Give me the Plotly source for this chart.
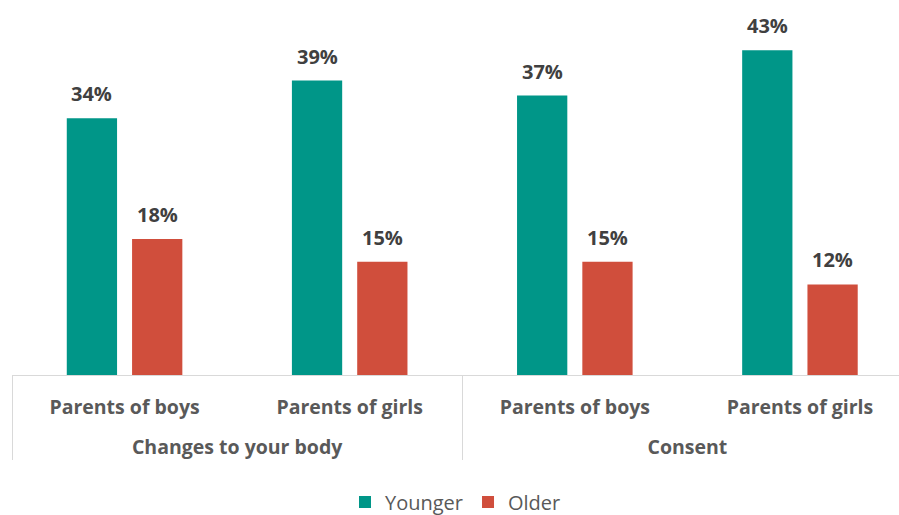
import plotly.graph_objects as go

# Survey topics (outer axis level) and parent groups (inner axis level)
topics = ["Changes to your body", "Changes to your body", "Consent", "Consent"]
parents = ["Parents of boys", "Parents of girls", "Parents of boys", "Parents of girls"]

younger = [34, 39, 37, 43]
older = [18, 15, 15, 12]

series = [("Younger", younger, "#009688"), ("Older", older, "#D04E3C")]

BARGAP = 0.42
label_font = dict(family="Open Sans", size=20, color="#404040", weight="bold")

# Inner labels get a trailing blank line so the outer level sits lower
inner_labels = [p + "<br> " for p in parents]

fig = go.Figure()
for name, vals, color in series:
    fig.add_trace(go.Bar(
        name=name,
        x=[topics, inner_labels],
        y=vals,
        marker=dict(color=color, line=dict(width=0)),
    ))

# Value labels above each bar, offset within its group slot
slot = (1 - BARGAP) / len(series)
for k, (name, vals, color) in enumerate(series):
    offset = (k - (len(series) - 1) / 2) * slot
    for i, v in enumerate(vals):
        fig.add_annotation(
            x=i + offset, y=v, xref="x", yref="y",
            text=f"{v}%", showarrow=False,
            yanchor="bottom", yshift=9,
            font=label_font,
        )

fig.update_layout(
    width=899, height=515,
    margin=dict(l=12, r=0, t=5, b=140, autoexpand=False),
    paper_bgcolor="white", plot_bgcolor="white",
    barmode="group", bargap=BARGAP, bargroupgap=0.23,
    font=dict(family="Open Sans", color="#595959"),
    showlegend=True,
    legend=dict(
        orientation="h", x=0.5, xanchor="center", y=-0.343, yanchor="middle",
        font=dict(size=20, color="#595959"), itemwidth=30,
        traceorder="normal",
    ),
)

fig.update_xaxes(
    type="multicategory",
    range=[-0.5, 3.44],
    automargin=False,
    showline=True, linecolor="#D9D9D9", linewidth=1,
    showdividers=True, dividercolor="#D9D9D9", dividerwidth=1,
    tickfont=dict(family="Open Sans", size=19.5, color="#595959", weight="bold"),
    ticklabelstandoff=15,
    ticks="", showgrid=False,
)
fig.update_yaxes(
    range=[0, 49], visible=False, showgrid=False, zeroline=False,
    automargin=False,
)

fig.write_html("out.html")
